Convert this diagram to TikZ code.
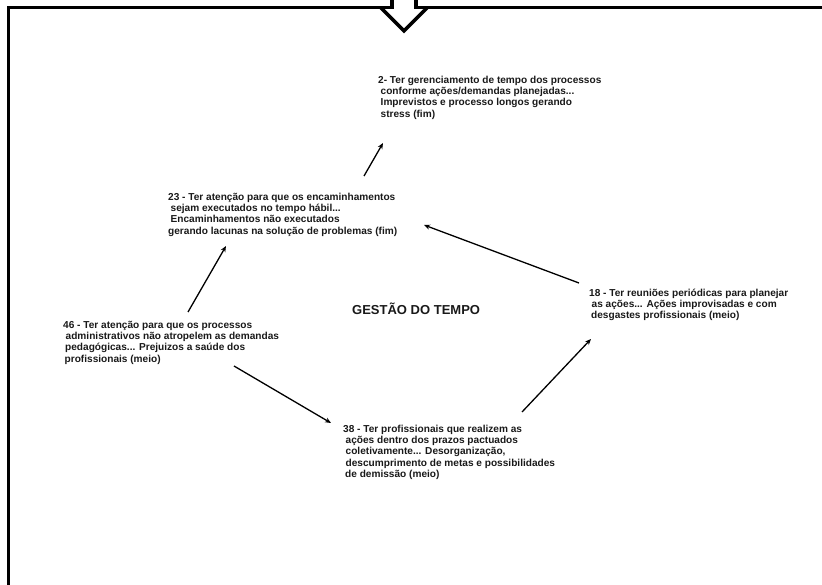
\documentclass[tikz,border=0pt]{standalone}
\usepackage{fontspec}
\setmainfont{Liberation Sans}
\usetikzlibrary{arrows.meta}
\begin{document}
\begin{tikzpicture}[x=1pt,y=-1pt,
  frameline/.style={line width=3.5pt, line join=miter, draw=black},
  % multi-line notes are placed by the baseline of their last line
  note/.style={anchor=base west, align=left, inner sep=0pt,
    font=\fontsize{10.1}{11.2}\selectfont\bfseries, text=black!90},
  heading/.style={anchor=base west, inner sep=0pt,
    font=\fontsize{13}{15}\selectfont\bfseries, text=black!90},
  flow/.style={line width=1.3pt, draw=black, -{Stealth[length=6pt,width=5pt]}},
]
\useasboundingbox (0,0) rectangle (822,585);

% open frame with the block arrow entering from above
\draw[frameline] (8.5,590) -- (8.5,7.5) -- (392,7.5) -- (392,-6);
\draw[frameline] (416,-6) -- (416,7.5) -- (830,7.5);
\draw[frameline] (380.5,7.5) -- (404,30.8) -- (427.5,7.5);

% statements
\node[note] (n2) at (378,117.1) {2- Ter gerenciamento de tempo dos processos\\
  \hspace*{2.5pt}conforme ações/demandas planejadas...\\
  \hspace*{2.5pt}Imprevistos e processo longos gerando\\
  \hspace*{2.5pt}stress (fim)};

\node[note] (n23) at (168,234.1) {23 - Ter atenção para que os encaminhamentos\\
  \hspace*{2.5pt}sejam executados no tempo hábil...\\
  \hspace*{2.5pt}Encaminhamentos não executados\\
  gerando lacunas na solução de problemas (fim)};

\node[note] (n46) at (63,362.1) {46 - Ter atenção para que os processos\\
  \hspace*{2.5pt}administrativos não atropelem as demandas\\
  \hspace*{2pt}pedagógicas... Prejuizos a saúde dos\\
  \hspace*{1.5pt}profissionais (meio)};

\node[note] (n18) at (589,318.4) {18 - Ter reuniões periódicas para planejar\\
  \hspace*{2.5pt}as ações... Ações improvisadas e com\\
  \hspace*{2pt}desgastes profissionais (meio)};

\node[note] (n38) at (343,477.3) {38 - Ter profissionais que realizem as\\
  \hspace*{2.5pt}ações dentro dos prazos pactuados\\
  \hspace*{2.5pt}coletivamente... Desorganização,\\
  \hspace*{2.5pt}descumprimento de metas e possibilidades\\
  \hspace*{2pt}de demissão (meio)};

\node[heading] (title) at (352,314.6) {GESTÃO DO TEMPO};

% connector ends
\coordinate (c46out) at (188,312);
\coordinate (c23in)  at (226,246);
\coordinate (c23out) at (364,176);
\coordinate (c2in)   at (383,143);
\coordinate (c18out) at (579,283);
\coordinate (c23in2) at (424,225);
\coordinate (c38out) at (522,412);
\coordinate (c18in)  at (591,339);
\coordinate (c46out2) at (234,366);
\coordinate (c38in)  at (331,423);

\draw[flow] (c46out) -- (c23in);
\draw[flow] (c23out) -- (c2in);
\draw[flow] (c18out) -- (c23in2);
\draw[flow] (c38out) -- (c18in);
\draw[flow] (c46out2) -- (c38in);
\end{tikzpicture}
\end{document}
